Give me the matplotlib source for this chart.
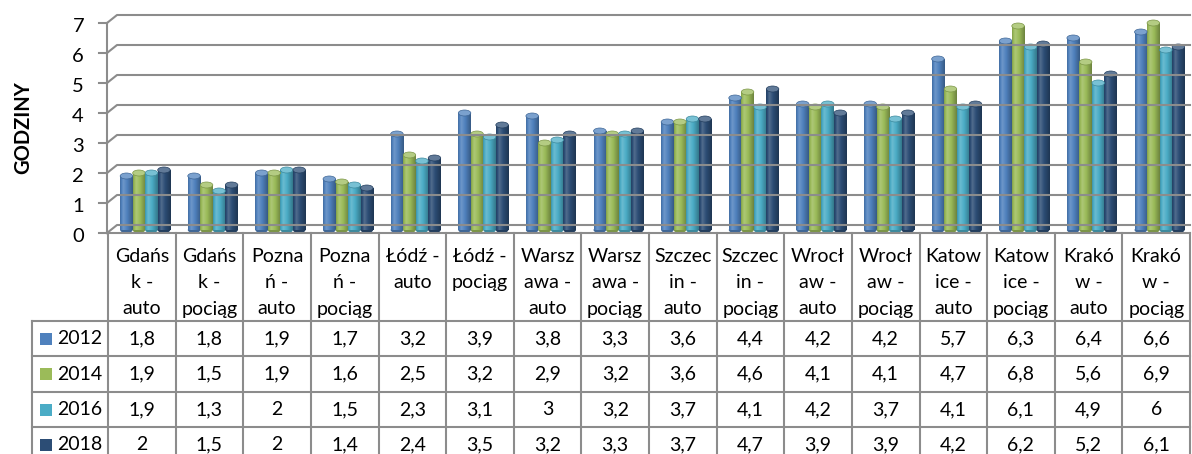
import numpy as np
import matplotlib
matplotlib.use("Agg")
import matplotlib.pyplot as plt
from matplotlib.patches import Rectangle, Ellipse
from matplotlib.lines import Line2D
from matplotlib.colors import to_rgb

plt.rcParams['font.family'] = ['Lato', 'DejaVu Sans']

categories = ["Gdańs\nk -\nauto", "Gdańs\nk -\npociąg", "Pozna\nń -\nauto", "Pozna\nń -\npociąg",
              "Łódź -\nauto", "Łódź -\npociąg", "Warsz\nawa -\nauto", "Warsz\nawa -\npociąg",
              "Szczec\nin -\nauto", "Szczec\nin -\npociąg", "Wrocł\naw -\nauto", "Wrocł\naw -\npociąg",
              "Katow\nice -\nauto", "Katow\nice -\npociąg", "Krakó\nw -\nauto", "Krakó\nw -\npociąg"]
years = ["2012", "2014", "2016", "2018"]
v2012 = [1.8, 1.8, 1.9, 1.7, 3.2, 3.9, 3.8, 3.3, 3.6, 4.4, 4.2, 4.2, 5.7, 6.3, 6.4, 6.6]
v2014 = [1.9, 1.5, 1.9, 1.6, 2.5, 3.2, 2.9, 3.2, 3.6, 4.6, 4.1, 4.1, 4.7, 6.8, 5.6, 6.9]
v2016 = [1.9, 1.3, 2, 1.5, 2.3, 3.1, 3, 3.2, 3.7, 4.1, 4.2, 3.7, 4.1, 6.1, 4.9, 6]
v2018 = [2, 1.5, 2, 1.4, 2.4, 3.5, 3.2, 3.3, 3.7, 4.7, 3.9, 3.9, 4.2, 6.2, 5.2, 6.1]
series = [v2012, v2014, v2016, v2018]
colors = ["#4F81BD", "#9BBB59", "#4BACC6", "#2C4D75"]
yticks = [0, 1, 2, 3, 4, 5, 6, 7]

W, H = 1192, 454
fig = plt.figure(figsize=(W / 100, H / 100), dpi=100)


def fx(px):
    return px / W


def fy(py):
    return 1 - py / H


def pline(xs, ys, color="#8C8C8C", lw=1.5, z=1):
    fig.add_artist(Line2D([fx(x) for x in xs], [fy(y) for y in ys],
                          transform=fig.transFigure, color=color, lw=lw, zorder=z))


# front axis: 0 -> y=233px, 7 -> y=23px ; bars stand a little deeper (3px up)
left, right, y0, y7 = 108, 1190, 233, 23
depth = 3
ax = fig.add_axes([fx(left), fy(y0 - depth), fx(right) - fx(left), fy(y7) - fy(y0)])
ax.axis('off')

# back wall gridlines with a small perspective step
dx, dy = 10, 8
for t in yticks:
    ypx = y0 - (y0 - y7) * t / 7
    pline([left - 1, left - 1 + dx, right], [ypx, ypx - dy, ypx - dy])
    pline([99, left - 1], [ypx, ypx])
    fig.text(fx(84), fy(ypx + 3), str(t), ha='right', va='center', fontsize=14.5)
pline([left - 1, left - 1], [y7, y0])
pline([left - 1, right], [y0, y0])

fig.text(fx(23), fy(128), "GODZINY", rotation=90, ha='center', va='center',
         fontsize=14.5, fontweight='bold')


def shade(color, f):
    c = np.array(to_rgb(color))
    if f >= 1:
        return c + (1 - c) * (f - 1)
    return c * f


prof = np.interp(np.linspace(0, 1, 40), [0, 0.25, 0.55, 1], [0.85, 1.18, 1.0, 0.7])

x = np.arange(len(categories))
bw = 0.185
for i, vals in enumerate(series):
    grad = np.array([[shade(colors[i], f) for f in prof]])
    top = shade(colors[i], 1.25)
    for xi, v in zip(x, vals):
        x0 = xi + 0.05 + (i - 2) * bw
        # rounded bottom of the cylinder
        ax.add_patch(Ellipse((x0 + bw / 2, 0), bw, 0.2, facecolor=shade(colors[i], 0.8),
                             edgecolor='none', zorder=2, clip_on=False))
        rect = Rectangle((x0, 0), bw, v, facecolor='none', edgecolor='none')
        ax.add_patch(rect)
        im = ax.imshow(grad, extent=[x0, x0 + bw, 0, v], aspect='auto',
                       interpolation='bilinear', zorder=2)
        im.set_clip_path(rect)
        ax.add_patch(Ellipse((x0 + bw / 2, v), bw, 0.2, facecolor=top,
                             edgecolor=shade(colors[i], 0.8), lw=0.5, zorder=3,
                             clip_on=False))

ax.set_xlim(-0.5, len(categories) - 0.5)
ax.set_ylim(0, 7)

# data table
colw = (right - left) / len(categories)
rows = [321, 356, 392, 427, 462]
for k in range(len(categories) + 1):
    pline([left + k * colw] * 2, [y0, H])
pline([32, 32], [rows[0], H])
for r in rows[:-1]:
    pline([32, right], [r, r])

for k, lab in enumerate(categories):
    cx = left + (k + 0.5) * colw
    for j, line in enumerate(lab.split("\n")):
        fig.text(fx(cx), fy(256 + 26.5 * j), line, ha='center', va='center', fontsize=14)

for i, vals in enumerate(series):
    cy = (rows[i] + rows[i + 1]) / 2
    fig.add_artist(Rectangle((fx(40), fy(cy + 6)), fx(12), fy(0) - fy(12),
                             transform=fig.transFigure, facecolor=colors[i], edgecolor='none'))
    fig.text(fx(57), fy(cy), years[i], ha='left', va='center', fontsize=14)
    for k, v in enumerate(vals):
        cx = left + (k + 0.5) * colw
        fig.text(fx(cx), fy(cy), format(v, 'g').replace('.', ','), ha='center', va='center',
                 fontsize=14)

fig.savefig("out.png", dpi=100)
